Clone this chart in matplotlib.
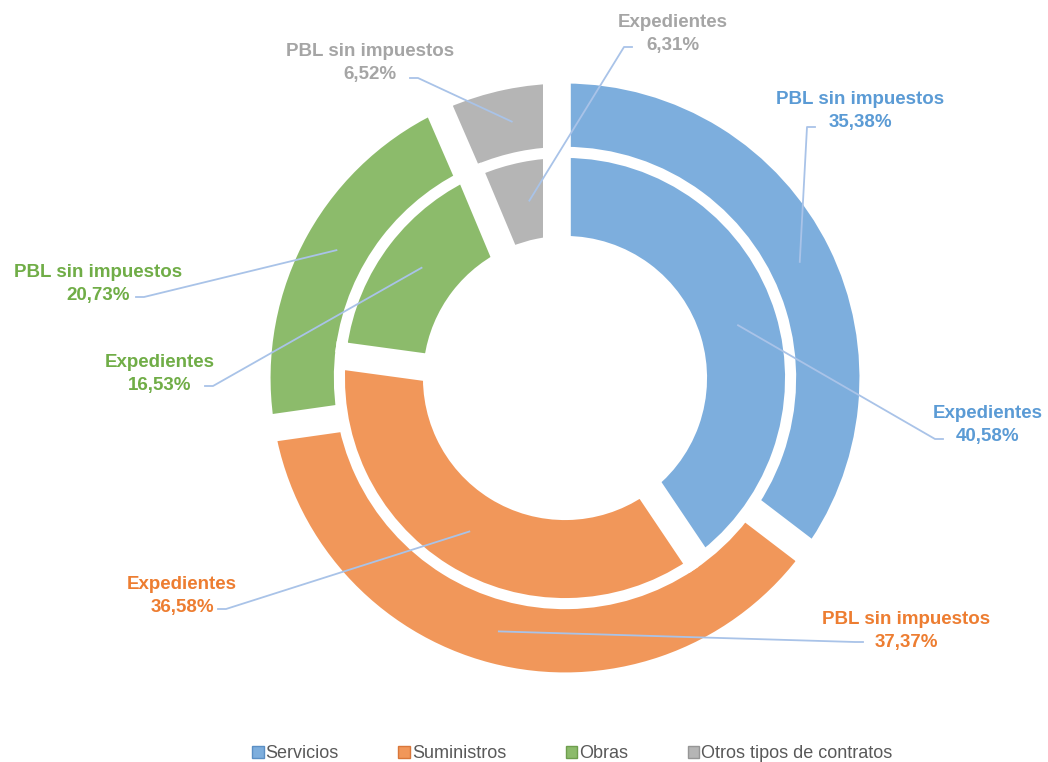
import numpy as np
import matplotlib
matplotlib.use("Agg")
import matplotlib.pyplot as plt
from matplotlib.patches import Patch

plt.rcParams['font.family'] = ['Liberation Sans', 'DejaVu Sans']

# datos
categorias = ['Servicios', 'Suministros', 'Obras', 'Otros tipos de contratos']
expedientes = [40.58, 36.58, 16.53, 6.31]       # anillo interior
pbl_sin_impuestos = [35.38, 37.37, 20.73, 6.52]  # anillo exterior
etiqueta_interior = 'Expedientes'
etiqueta_exterior = 'PBL sin impuestos'

colores = ['#7DAEDD', '#F1975A', '#8CBB6B', '#B5B5B5']
colores_borde = ['#5B8FC4', '#D9773A', '#6E9E4E', '#969696']
colores_texto = ['#5B9BD5', '#ED7D31', '#70AD47', '#A5A5A5']
color_guia = '#A9C3E8'

# escala: pixeles -> unidades de datos
W, H = 1048, 762
CX, CY = 565, 378
S = 300.0


def px(x, y):
    return (x - CX) / S, (CY - y) / S


fig = plt.figure(figsize=(W / 100, H / 100), dpi=100)
ax = fig.add_axes([0, 0, 1, 1])

LW = 8  # borde blanco (pt)
r_ext, w_ext = 1.0, 0.253
r_int, w_int = 0.752, 0.297

ax.pie(pbl_sin_impuestos, radius=r_ext, startangle=90, counterclock=False,
       colors=colores, wedgeprops=dict(width=w_ext, edgecolor='white', linewidth=LW))
ax.pie(expedientes, radius=r_int, startangle=90, counterclock=False,
       colors=colores, wedgeprops=dict(width=w_int, edgecolor='white', linewidth=LW))


def angulos(valores):
    v = np.array(valores, dtype=float)
    acum = np.cumsum(v) / v.sum()
    medio = acum - v / v.sum() / 2
    return np.deg2rad(90 - 360 * acum), np.deg2rad(90 - 360 * medio)


# hueco entre sectores: se recorta el final de cada sector (como en Excel)
HUECO = 22  # px
for valores, r, w in [(pbl_sin_impuestos, r_ext, w_ext), (expedientes, r_int, w_int)]:
    bordes, _ = angulos(valores)
    for a in bordes:
        dx, dy = -np.sin(a) * HUECO / 2 / S, np.cos(a) * HUECO / 2 / S
        ax.plot([(r - w - 0.01) * np.cos(a) + dx, (r + 0.01) * np.cos(a) + dx],
                [(r - w - 0.01) * np.sin(a) + dy, (r + 0.01) * np.sin(a) + dy],
                color='white', lw=HUECO * 0.72, solid_capstyle='butt', zorder=3)

# posiciones de las etiquetas (centro del bloque) y fin de las guias, en pixeles
pos_ext = [(860, 111), (906, 631), (98, 284), (370, 63)]
guia_ext = [(815, 127), (863, 642), (136, 297), (410, 78)]
pos_int = [(988, 425), (182, 596), (160, 374), (673, 34)]
guia_int = [(943, 439), (218, 609), (205, 386), (632, 47)]

for valores, nombre, pos, guia, r_anc in [
        (pbl_sin_impuestos, etiqueta_exterior, pos_ext, guia_ext, 0.873),
        (expedientes, etiqueta_interior, pos_int, guia_int, 0.603)]:
    _, medios = angulos(valores)
    for i, v in enumerate(valores):
        tx, ty = px(*pos[i])
        gx, gy = px(*guia[i])
        ax_, ay_ = r_anc * np.cos(medios[i]), r_anc * np.sin(medios[i])
        cola = 8 / S if gx > ax_ else -8 / S
        ax.plot([ax_, gx - cola, gx], [ay_, gy, gy], color=color_guia, lw=1.3, zorder=4)
        texto = f"{nombre}\n{v:.2f}%".replace('.', ',')
        ax.text(tx, ty, texto, ha='center', va='center', multialignment='center',
                fontsize=13.5, fontweight='bold', color=colores_texto[i],
                linespacing=1.45, zorder=5)

ax.set_xlim(-CX / S, (W - CX) / S)
ax.set_ylim(-(H - CY) / S, CY / S)
ax.set_aspect('auto')
ax.axis('off')

handles = [Patch(facecolor=c, edgecolor=e, linewidth=1) for c, e in zip(colores, colores_borde)]
leg = fig.legend(handles, categorias, loc='center', bbox_to_anchor=(0.546, 1 - 754 / H),
                 ncol=4, frameon=False, fontsize=13, handlelength=0.65, handleheight=0.65,
                 handletextpad=0.1, columnspacing=3.3)
for t in leg.get_texts():
    t.set_color('#595959')

plt.savefig("out.png", dpi=100)
